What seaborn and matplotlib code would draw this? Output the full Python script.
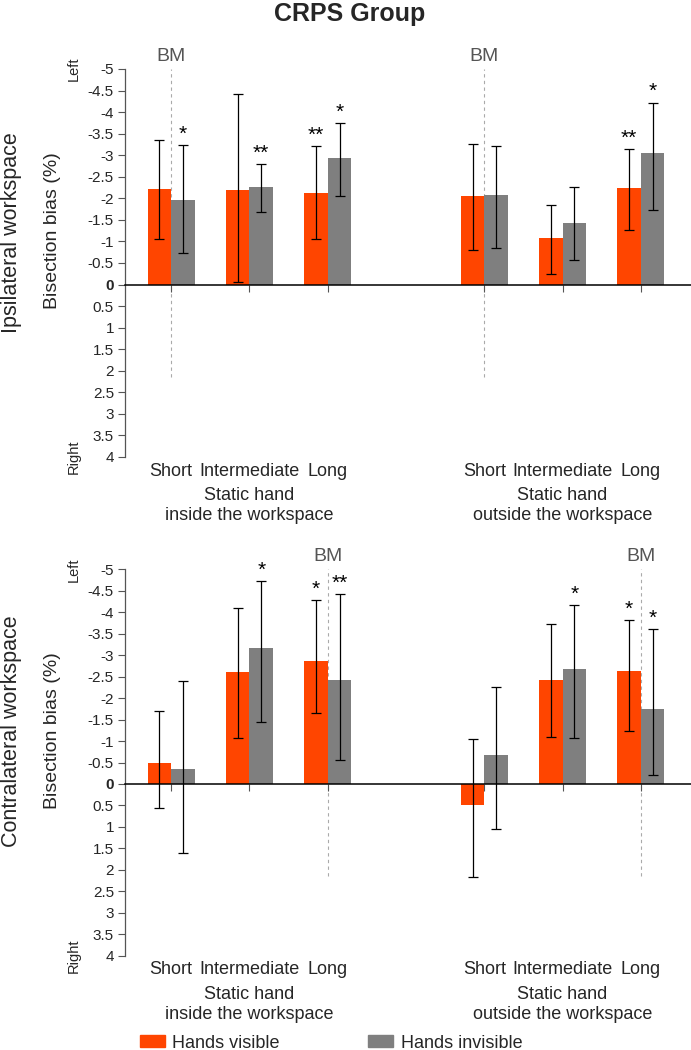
import matplotlib
matplotlib.use("Agg")
import matplotlib.pyplot as plt
import numpy as np
import pandas as pd
import seaborn as sns

# categories (order of the bars inside each panel)
lengths = ["Short", "Intermediate", "Long"]
hand_groups = ["Static hand\ninside the workspace", "Static hand\noutside the workspace"]
series = ["Hands visible", "Hands invisible"]

# Ipsilateral workspace: mean bisection bias (%), negative = left
ipsi_visible = [-2.22, -2.19, -2.13, -2.06, -1.08, -2.24]
ipsi_invisible = [-1.97, -2.26, -2.94, -2.08, -1.42, -3.06]
# whisker ends (left end, right end)
ipsi_visible_ci = [(-3.36, -1.05), (-4.43, -0.05), (-3.22, -1.05),
                   (-3.25, -0.81), (-1.84, -0.24), (-3.14, -1.27)]
ipsi_invisible_ci = [(-3.23, -0.74), (-2.80, -1.69), (-3.74, -2.05),
                     (-3.22, -0.84), (-2.26, -0.56), (-4.22, -1.73)]
ipsi_visible_sig = ["", "", "**", "", "", "**"]
ipsi_invisible_sig = ["*", "**", "*", "", "", "*"]
ipsi_bm = ["Short"]

# Contralateral workspace
contra_visible = [-0.48, -2.60, -2.87, 0.49, -2.43, -2.64]
contra_invisible = [-0.36, -3.17, -2.42, -0.67, -2.68, -1.74]
contra_visible_ci = [(-1.69, 0.57), (-4.09, -1.07), (-4.28, -1.66),
                     (-1.05, 2.16), (-3.73, -1.10), (-3.82, -1.23)]
contra_invisible_ci = [(-2.39, 1.61), (-4.73, -1.44), (-4.42, -0.57),
                       (-2.27, 1.04), (-4.17, -1.08), (-3.60, -0.20)]
contra_visible_sig = ["", "", "*", "", "", "*"]
contra_invisible_sig = ["", "*", "**", "", "*", "*"]
contra_bm = ["Long"]

y_ticks = np.arange(-5, 4.01, 0.5)
bm_end = 2.15

COLORS = {"Hands visible": "#FF4500", "Hands invisible": "#7F7F7F"}

sns.set_theme(style="white")
plt.rcParams["font.family"] = ["Liberation Sans", "DejaVu Sans"]
plt.rcParams["axes.unicode_minus"] = False

# slot keys: 3 lengths, an empty slot, 3 lengths
slots = [f"in {l}" for l in lengths] + ["gap"] + [f"out {l}" for l in lengths]
cat_keys = [s for s in slots if s != "gap"]


def draw_panel(ax, visible, invisible, vis_ci, inv_ci, vis_sig, inv_sig, bm):
    df = pd.DataFrame({
        "slot": cat_keys * 2,
        "series": [series[0]] * 6 + [series[1]] * 6,
        "bias": visible + invisible,
    })
    sns.barplot(data=df, x="slot", y="bias", hue="series", order=slots,
                hue_order=series, palette=COLORS, saturation=1, width=0.6,
                gap=0, errorbar=None, linewidth=0, legend=False, ax=ax)

    ci = {series[0]: vis_ci, series[1]: inv_ci}
    sig = {series[0]: vis_sig, series[1]: inv_sig}
    for name, cont in zip(series, ax.containers):
        for bar in cont:
            xc = bar.get_x() + bar.get_width() / 2
            key = slots[int(round(xc))]
            i = cat_keys.index(key)
            val = df.loc[(df.slot == key) & (df.series == name), "bias"].iloc[0]
            a, b = ci[name][i]
            ax.errorbar(xc, val, yerr=[[val - a], [b - val]], fmt="none",
                        ecolor="black", elinewidth=0.9, capsize=3.5, capthick=0.9,
                        zorder=3)
            if sig[name][i]:
                ax.annotate(sig[name][i], xy=(xc, a), xytext=(0, 1),
                            textcoords="offset points", ha="center", va="bottom",
                            fontsize=15, color="black")

    ax.set_ylim(4, -5)
    ax.set_xlim(-0.59, 6.64)
    ax.set_yticks(y_ticks)
    ax.set_yticklabels([f"{v:g}" for v in y_ticks])
    for t in ax.get_yticklabels():
        if t.get_text() == "0":
            t.set_fontweight("bold")
    ax.tick_params(axis="y", labelsize=11, length=5, width=0.8, color="#555555",
                   left=True, pad=3)

    # zero line with small tick marks under each category
    ax.spines["bottom"].set_position(("data", 0))
    ax.spines["bottom"].set_color("black")
    ax.spines["bottom"].set_linewidth(1.1)
    ax.set_xticks([slots.index(k) for k in cat_keys])
    ax.tick_params(axis="x", bottom=True, length=5, width=0.8, color="#555555",
                   labelbottom=False)
    ax.spines["left"].set_color("#555555")
    ax.spines["left"].set_linewidth(0.9)
    ax.spines["top"].set_visible(False)
    ax.spines["right"].set_visible(False)
    ax.set_xlabel("")

    sec = ax.secondary_xaxis("bottom")
    sec.set_xticks([slots.index(k) for k in cat_keys], lengths * 2)
    sec.tick_params(length=0, pad=4, labelsize=13)
    sec.spines["bottom"].set_visible(False)

    for g, label in enumerate(hand_groups):
        xg = slots.index(cat_keys[g * 3 + 1])
        ax.annotate(label, xy=(xg, 0), xycoords=("data", "axes fraction"),
                    xytext=(0, -35), textcoords="offset points", ha="center",
                    va="center", fontsize=13, linespacing=1.25)

    for g in ("in", "out"):
        for l in bm:
            xb = slots.index(f"{g} {l}")
            ax.axvline(xb, ymin=(4 - bm_end) / 9, ymax=1, color="#aaaaaa",
                       lw=0.8, ls=(0, (3, 3)), zorder=0)
            ax.annotate("BM", xy=(xb, 1), xycoords=("data", "axes fraction"),
                        xytext=(0, 9), textcoords="offset points", ha="center",
                        va="center", fontsize=14, color="#555555")

    ax.set_ylabel("Bisection bias (%)", fontsize=14)
    ax.yaxis.set_label_coords(-0.113, 0.583)
    ax.text(-0.09, 1.0, "Left", transform=ax.transAxes, rotation=90,
            ha="center", va="center", fontsize=10.5)
    ax.text(-0.09, 0.0, "Right", transform=ax.transAxes, rotation=90,
            ha="center", va="center", fontsize=10.5)


fig = plt.figure(figsize=(6.91, 10.5), dpi=100)
ax_top = fig.add_axes([0.1809, 0.5648, 0.8191, 0.3695])
ax_bot = fig.add_axes([0.1809, 0.0898, 0.8191, 0.3680])

draw_panel(ax_top, ipsi_visible, ipsi_invisible, ipsi_visible_ci, ipsi_invisible_ci,
           ipsi_visible_sig, ipsi_invisible_sig, ipsi_bm)
draw_panel(ax_bot, contra_visible, contra_invisible, contra_visible_ci,
           contra_invisible_ci, contra_visible_sig, contra_invisible_sig,
           contra_bm)

fig.text(0.016, 1 - 233 / 1050, "Ipsilateral workspace", rotation=90,
         ha="center", va="center", fontsize=15.5)
fig.text(0.016, 1 - 731 / 1050, "Contralateral workspace", rotation=90,
         ha="center", va="center", fontsize=15.5)
fig.text(0.506, 1 - 14 / 1050, "CRPS Group", ha="center", va="center",
         fontsize=18, fontweight="bold")

handles = [plt.Rectangle((0, 0), 1, 1, color=COLORS[s]) for s in series]
fig.legend(handles, series, loc="center", bbox_to_anchor=(0.479, 7 / 1050),
           ncol=2, frameon=False, fontsize=13, handlelength=1.4,
           handleheight=0.6, handletextpad=0.4, columnspacing=4.9)

fig.savefig("out.png", dpi=100)
